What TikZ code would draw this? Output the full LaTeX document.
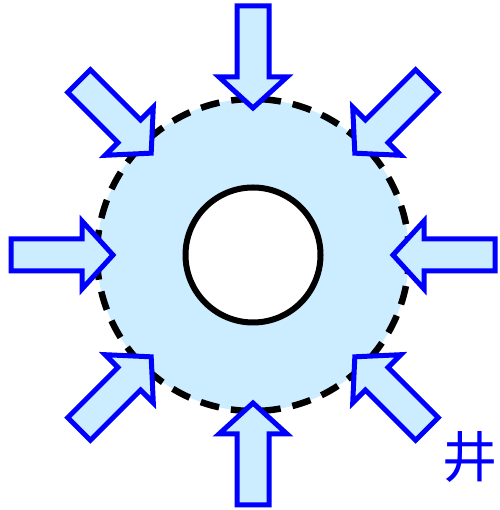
\documentclass[tikz,border=0pt]{standalone}
\usepackage{fontspec}
\newfontfamily\cjkfont{Noto Sans CJK SC}
\usepackage{tikz}
\definecolor{lightcyan}{RGB}{204, 236, 255}
\definecolor{arrowblue}{RGB}{0, 0, 255}

\begin{document}
\begin{tikzpicture}[
    x=1pt, y=1pt,
    ring/.style={fill=lightcyan, draw=black, line width=6.5pt, dash pattern=on 19pt off 12pt},
    hole/.style={fill=white, draw=black, line width=6pt},
    bigarrow/.style={fill=lightcyan, draw=arrowblue, line width=5pt, line join=miter},
    wellmark/.style={text=arrowblue, font=\cjkfont\fontsize{55}{55}\selectfont, inner sep=0pt}
]
\useasboundingbox (0,0) rectangle (499,510);
\coordinate (centre) at (253,255);

\filldraw[ring] (centre) circle (156);
\filldraw[hole] (centre) circle (67.5);

% arrows pressing in from all sides
\foreach \ang/\rad in {90/147, 270/148, 180/140, 0/140, 135/144, 45/144, 315/144, 225/144} {
  \filldraw[bigarrow, shift={(centre)}, rotate=\ang]
    (\rad,0) -- ++(31,34) -- ++(0,-18) -- ++(71,0) -- ++(0,-32) -- ++(-71,0) -- ++(0,-18) -- cycle;
}

\node[wellmark] (mark) at (470,53) {井};
\end{tikzpicture}
\end{document}
